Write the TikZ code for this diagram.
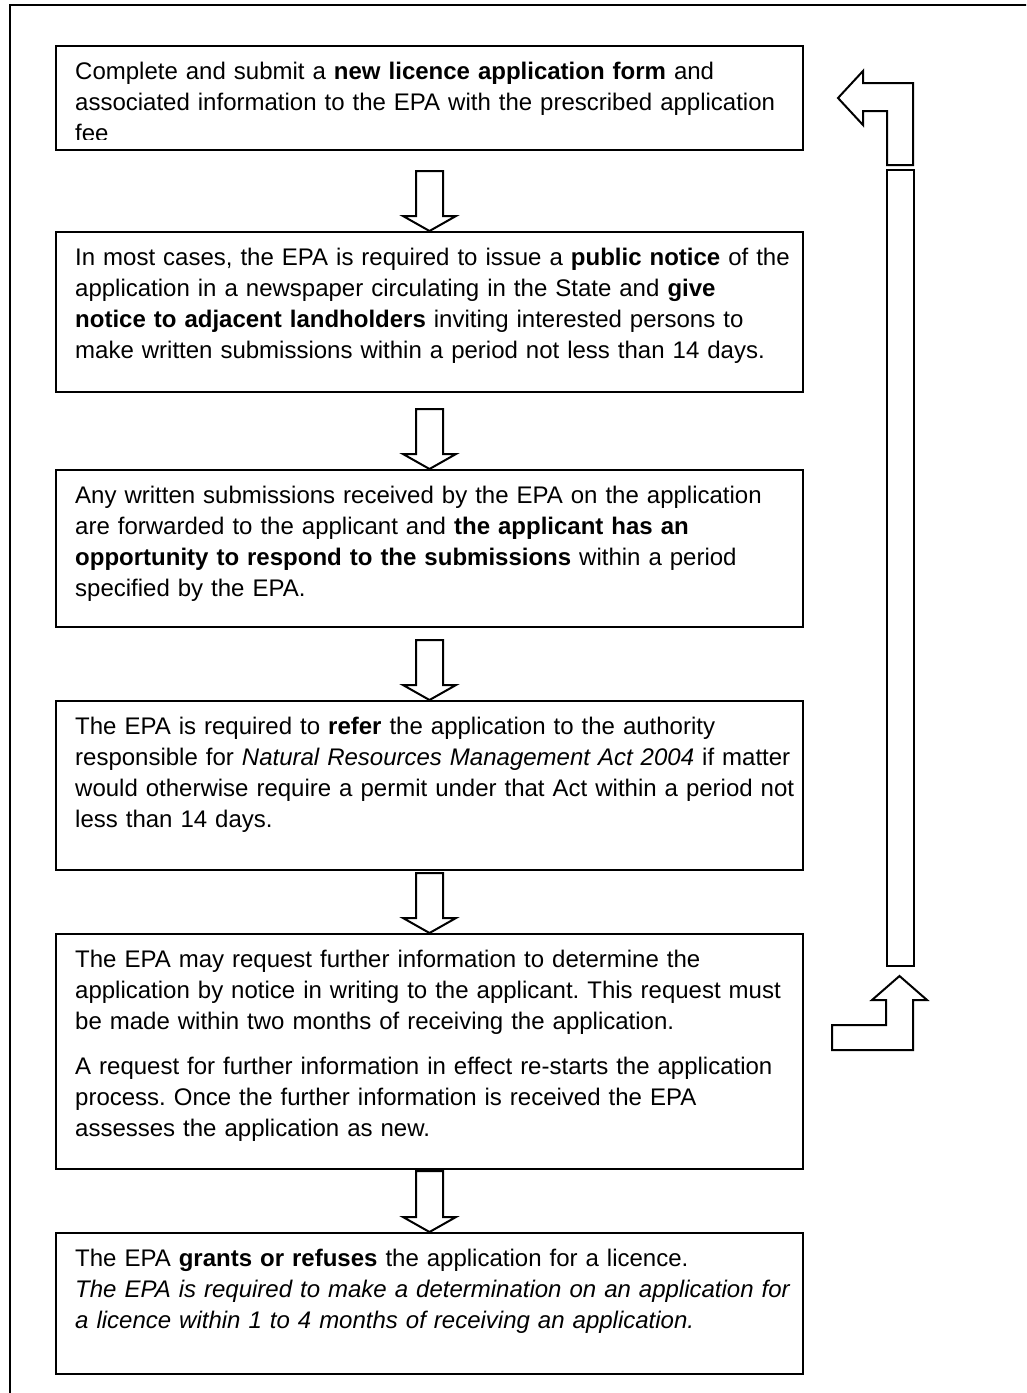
\documentclass[tikz,border=0pt]{standalone}
\usepackage{fontspec}
\setmainfont{Liberation Sans}
\usetikzlibrary{calc}
\frenchspacing
\tikzset{
  flowbox/.style={draw=black, line width=2pt, anchor=north west, inner sep=0pt, minimum width=747pt},
  txt/.style={anchor=north west, inner sep=0pt, align=left, text width=740pt, font=\fontsize{24}{31}\selectfont},
  blockarrow/.style={draw=black, fill=white, line width=2pt, line join=miter},
}
\newcommand{\blkdown}[2]{%
  \draw[blockarrow] let \p1=(#1), \p2=(#2) in
    (\x1-13.5,\y1) -- (\x1+13.5,\y1) -- (\x1+13.5,\y2+15) -- (\x1+26.5,\y2+15)
    -- (\x1,\y2) -- (\x1-26.5,\y2+15) -- (\x1-13.5,\y2+15) -- cycle;}
\begin{document}
\begin{tikzpicture}[x=1pt,y=1pt]
\clip (0,0) rectangle (1026,-1393);
\fill[white] (0,0) rectangle (1026,-1393);
\draw[line width=2pt] (10,-5) rectangle (1040,-1410);

% boxes
\node[flowbox, minimum height=104pt] (b1) at (55,-45) {};
\node[flowbox, minimum height=160pt] (b2) at (55,-231) {};
\node[flowbox, minimum height=157pt] (b3) at (55,-469) {};
\node[flowbox, minimum height=169pt] (b4) at (55,-700) {};
\node[flowbox, minimum height=235pt] (b5) at (55,-933) {};
\node[flowbox, minimum height=141pt] (b6) at (55,-1232) {};

% texts
\begin{scope}
\clip (55,-45) rectangle (802,-139);
\node[txt] (t1) at ($(b1.north west)+(20,-16.5)$) {Complete and submit a \textbf{new licence application form} and\\
associated information to the EPA with the prescribed application\\
fee};
\end{scope}
\node[txt] (t2) at ($(b2.north west)+(20,-16.5)$) {In most cases, the EPA is required to issue a \textbf{public notice} of the\\
application in a newspaper circulating in the State and \textbf{give}\\
\textbf{notice to adjacent landholders} inviting interested persons to\\
make written submissions within a period not less than 14 days.};
\node[txt] (t3) at ($(b3.north west)+(20,-16.5)$) {Any written submissions received by the EPA on the application\\
are forwarded to the applicant and \textbf{the applicant has an}\\
\textbf{opportunity to respond to the submissions} within a period\\
specified by the EPA.};
\node[txt] (t4) at ($(b4.north west)+(20,-16.5)$) {The EPA is required to \textbf{refer} the application to the authority\\
responsible for \textit{Natural Resources Management Act 2004} if matter\\
would otherwise require a permit under that Act within a period not\\
less than 14 days.};
\node[txt] (t5) at ($(b5.north west)+(20,-16.5)$) {The EPA may request further information to determine the\\
application by notice in writing to the applicant. This request must\\
be made within two months of receiving the application.\\[14pt]
A request for further information in effect re-starts the application\\
process. Once the further information is received the EPA\\
assesses the application as new.};
\node[txt] (t6) at ($(b6.north west)+(20,-16.5)$) {The EPA \textbf{grants or refuses} the application for a licence.\\
\textit{The EPA is required to make a determination on an application for}\\
\textit{a licence within 1 to 4 months of receiving an application.}};

% down block arrows
\blkdown{$(b1.south)+(0,-20)$}{b2.north}
\blkdown{$(b2.south)+(0,-16)$}{b3.north}
\blkdown{$(b3.south)+(0,-12)$}{b4.north}
\blkdown{$(b4.south)+(0,-2)$}{b5.north}
\blkdown{$(b5.south)+(0,-1)$}{b6.north}

% return arrow on the right
\coordinate (rtip) at (838,-98);
\coordinate (utip) at (899.5,-976);
\draw[blockarrow] (rtip) -- (863,-71) -- (863,-83) -- (913,-83) -- (913,-165)
  -- (887,-165) -- (887,-111) -- (863,-111) -- (863,-125) -- cycle;
\node[draw=black, line width=2pt, fill=white, anchor=north west, inner sep=0pt,
  minimum width=27pt, minimum height=796pt] (bar) at (886,-169) {};
\draw[blockarrow] (utip) -- (927,-1000) -- (913,-1000) -- (913,-1050) -- (832,-1050)
  -- (832,-1025) -- (886,-1025) -- (886,-1000) -- (872,-1000) -- cycle;
\end{tikzpicture}
\end{document}
